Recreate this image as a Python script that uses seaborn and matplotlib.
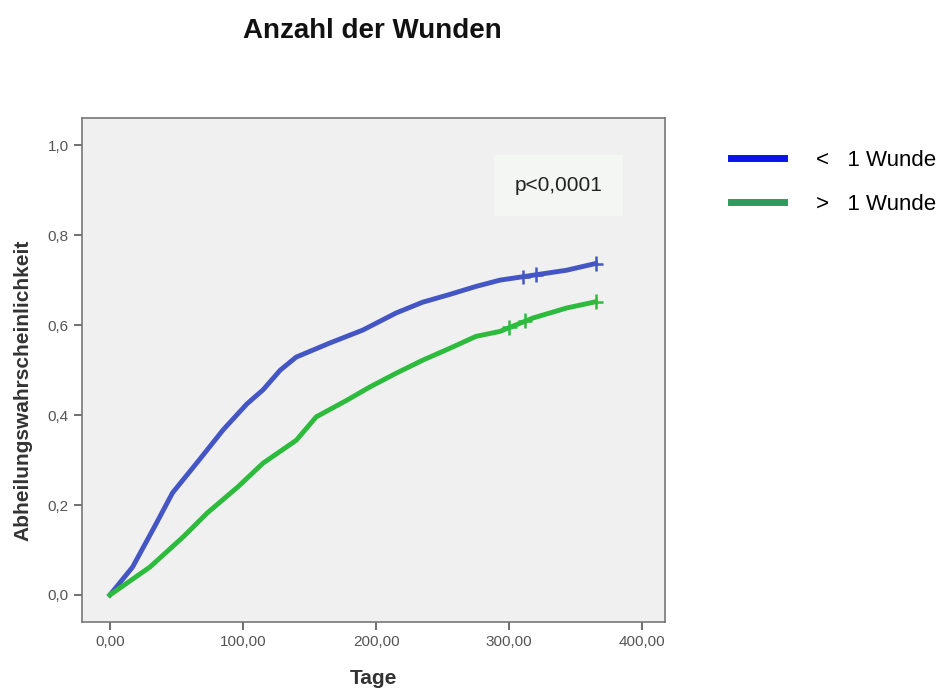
import numpy as np
import pandas as pd
import matplotlib
matplotlib.use("Agg")
import matplotlib.pyplot as plt
import seaborn as sns
from matplotlib.lines import Line2D

# Data (days, cumulative healing probability)
days_le1 = [0, 17, 35, 47, 67, 85, 103, 115, 128, 140, 165, 190, 215, 235, 255, 275, 293, 318, 343, 365]
prob_le1 = [0.0, 0.062, 0.16, 0.227, 0.30, 0.367, 0.425, 0.456, 0.50, 0.529, 0.56, 0.589, 0.627,
            0.651, 0.668, 0.686, 0.70, 0.711, 0.722, 0.737]
days_gt1 = [0, 30, 55, 73, 96, 115, 140, 155, 178, 195, 215, 235, 255, 275, 293, 318, 343, 365]
prob_gt1 = [0.0, 0.062, 0.129, 0.182, 0.24, 0.293, 0.344, 0.396, 0.433, 0.462, 0.493, 0.522,
            0.548, 0.575, 0.586, 0.616, 0.638, 0.652]
# censored observations (late)
cens_days_le1 = [310, 320, 365]
cens_prob_le1 = [0.707, 0.712, 0.737]
cens_days_gt1 = [300, 312, 365]
cens_prob_gt1 = [0.595, 0.610, 0.652]

groups = ["<   1 Wunde", ">   1 Wunde"]
xticks = [0, 100, 200, 300, 400]
xticklabels = ["0,00", "100,00", "200,00", "300,00", "400,00"]
yticks = [0.0, 0.2, 0.4, 0.6, 0.8, 1.0]
yticklabels = ["0,0", "0,2", "0,4", "0,6", "0,8", "1,0"]

df = pd.concat([
    pd.DataFrame({"Tage": days_le1, "p": prob_le1, "g": groups[0]}),
    pd.DataFrame({"Tage": days_gt1, "p": prob_gt1, "g": groups[1]}),
])
cens = pd.concat([
    pd.DataFrame({"Tage": cens_days_le1, "p": cens_prob_le1, "g": groups[0]}),
    pd.DataFrame({"Tage": cens_days_gt1, "p": cens_prob_gt1, "g": groups[1]}),
])

line_colors = {groups[0]: "#4456c4", groups[1]: "#2cbb3c"}
legend_colors = ["#0a14e8", "#2e9a5e"]

plt.rcParams["font.family"] = ["Liberation Sans", "DejaVu Sans"]
fig = plt.figure(figsize=(9.52, 6.91), dpi=100)
ax = fig.add_axes([0.0861, 0.0999, 0.6124, 0.729])
ax.set_facecolor("#f0f0f0")

sns.lineplot(data=df, x="Tage", y="p", hue="g", palette=line_colors, ax=ax,
             linewidth=3.5, legend=False, sort=True)
sns.scatterplot(data=cens, x="Tage", y="p", hue="g", palette=line_colors, ax=ax,
                marker="+", s=110, linewidth=1.8, legend=False)

ax.set_xlim(-21, 417)
ax.set_ylim(-0.06, 1.06)
ax.set_xticks(xticks)
ax.set_xticklabels(xticklabels)
ax.set_yticks(yticks)
ax.set_yticklabels(yticklabels)
ax.tick_params(axis="both", direction="out", length=6, width=1.2, color="#555555",
               labelsize=11, labelcolor="#555555")
for s in ax.spines.values():
    s.set_color("#777777")
    s.set_linewidth(1.2)

ax.set_xlabel("Tage", fontsize=15, fontweight="bold", color="#333333", labelpad=14)
ax.set_ylabel("Abheilungswahrscheinlichkeit", fontsize=15, fontweight="bold",
              color="#333333")
ax.yaxis.set_label_coords(-0.085, 0.46)

ax.text(337, 0.91, "p<0,0001", fontsize=15, color="#222222", ha="center", va="center",
        bbox=dict(boxstyle="square,pad=1.0", fc="#f4f6f4", ec="none"))

fig.text(0.391, 0.955, "Anzahl der Wunden", fontsize=20, fontweight="bold",
         ha="center", va="center", color="#111111")

handles = [Line2D([0], [0], color=legend_colors[0], linewidth=5),
           Line2D([0], [0], color=legend_colors[1], linewidth=5)]
fig.legend(handles, groups, loc="upper left", bbox_to_anchor=(0.747, 0.812),
           frameon=False, fontsize=16, handlelength=2.4, handletextpad=1.4,
           labelspacing=1.05)

fig.savefig("out.png", dpi=100)
